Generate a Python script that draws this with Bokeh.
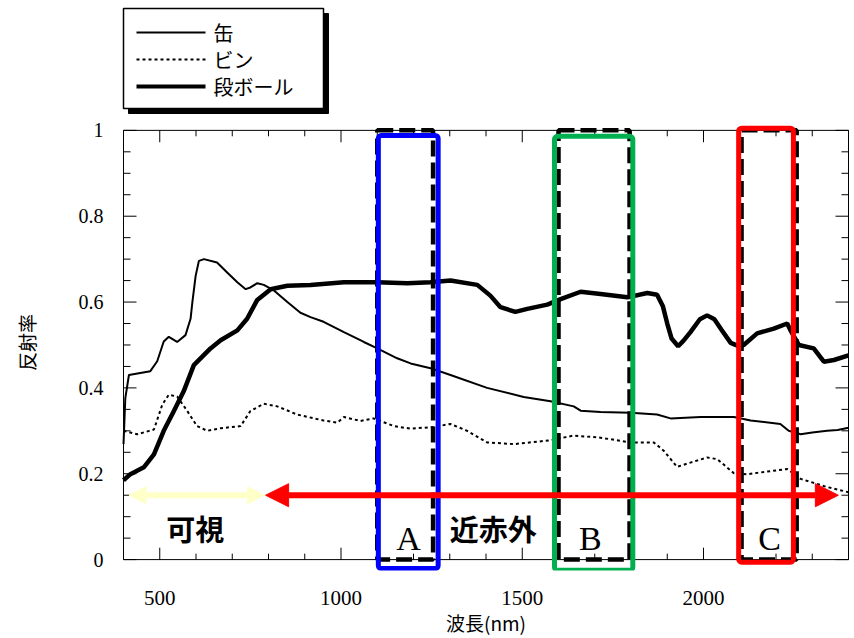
import numpy as np
from bokeh.plotting import figure
from bokeh.layouts import column
from bokeh.models import Range1d, FixedTicker, BoxAnnotation, Arrow, NormalHead
from bokeh.core.properties import value
from bokeh.embed import file_html
from bokeh.resources import INLINE

# ---------------- data ----------------
can_x = [400, 405, 415, 474, 493, 511, 525, 548, 571, 585, 590, 599, 608, 622, 658, 686,
         714, 737, 750, 769, 787, 815, 852, 888, 916, 952, 1008, 1063, 1100, 1155, 1192,
         1247, 1302, 1403, 1504, 1578, 1642, 1661, 1716, 1799, 1872, 1909, 1992, 2084,
         2130, 2212, 2235, 2268, 2300, 2341, 2370, 2400]
can_y = [0.269, 0.376, 0.430, 0.439, 0.462, 0.508, 0.519, 0.507, 0.523, 0.561, 0.600,
         0.661, 0.696, 0.700, 0.692, 0.669, 0.646, 0.630, 0.634, 0.644, 0.640, 0.627,
         0.600, 0.575, 0.565, 0.554, 0.530, 0.507, 0.492, 0.469, 0.457, 0.446, 0.430,
         0.400, 0.379, 0.369, 0.357, 0.347, 0.344, 0.342, 0.338, 0.329, 0.332, 0.332,
         0.324, 0.316, 0.300, 0.292, 0.296, 0.300, 0.302, 0.307]

bottle_x = [400, 438, 484, 507, 525, 548, 576, 603, 631, 668, 723, 750, 787, 824, 879,
            952, 990, 1008, 1054, 1090, 1146, 1192, 1256, 1302, 1348, 1403, 1477, 1578,
            1642, 1716, 1799, 1863, 1891, 1927, 1964, 2010, 2038, 2084, 2120, 2185, 2231,
            2268, 2341, 2400]
bottle_y = [0.300, 0.292, 0.303, 0.361, 0.384, 0.380, 0.346, 0.311, 0.300, 0.306, 0.311,
            0.346, 0.363, 0.357, 0.338, 0.324, 0.319, 0.332, 0.323, 0.329, 0.311, 0.305,
            0.309, 0.316, 0.300, 0.273, 0.269, 0.278, 0.289, 0.284, 0.273, 0.273, 0.253,
            0.216, 0.226, 0.238, 0.234, 0.201, 0.199, 0.206, 0.211, 0.188, 0.169, 0.157]

board_x = [400, 419, 456, 484, 511, 539, 566, 594, 640, 668, 714, 741, 769, 806, 852, 916,
           1008, 1100, 1183, 1247, 1302, 1376, 1412, 1440, 1481, 1514, 1569, 1606, 1661,
           1716, 1790, 1845, 1872, 1888, 1900, 1912, 1930, 1945, 1964, 1990, 2010, 2030,
           2050, 2075, 2095, 2111, 2148, 2194, 2231, 2240, 2263, 2304, 2332, 2360, 2400]
board_y = [0.185, 0.199, 0.215, 0.245, 0.300, 0.346, 0.392, 0.453, 0.492, 0.511, 0.534,
           0.561, 0.605, 0.630, 0.638, 0.640, 0.646, 0.646, 0.644, 0.646, 0.650, 0.640,
           0.615, 0.588, 0.577, 0.584, 0.594, 0.607, 0.624, 0.619, 0.611, 0.621, 0.617,
           0.590, 0.550, 0.515, 0.497, 0.510, 0.530, 0.560, 0.569, 0.560, 0.535, 0.505,
           0.498, 0.500, 0.527, 0.538, 0.550, 0.534, 0.500, 0.492, 0.461, 0.465, 0.476]

series_names = ["缶", "ビン", "段ボール"]

x_major = [500, 1000, 1500, 2000]
x_labels = ["500", "1000", "1500", "2000"]
y_major = [0, 0.2, 0.4, 0.6, 0.8, 1.0]
y_labels = ["0", "0.2", "0.4", "0.6", "0.8", "1"]

# bands A, B, C (nm)
band_names = ["A", "B", "C"]
band_left = [1100, 1600, 2105]
band_right = [1254, 1796, 2257]
frame_left = [1103, 1589, 2097]
frame_right = [1268, 1805, 2248]
frame_top = [0.988, 0.986, 1.005]
frame_bottom = [-0.021, -0.025, -0.006]
frame_colors = ["#0000FF", "#00B050", "#FF0000"]
band_label_x = [1186, 1688, 2182]
band_label_y = [0.048, 0.048, 0.048]

# region arrows
vis_range = [415, 789]
nir_range = [792, 2372]
arrow_y = 0.150
region_names = ["可視", "近赤外"]
region_label_x = [598, 1420]
region_label_y = [0.074, 0.074]

# ---------------- layout ----------------
W, H = 854, 638
LEG_H = 114                      # height of the legend strip above the chart
X0, X1, Y0, Y1 = 400, 2400, 0.0, 1.0
PX_X0, PX_X1 = 123, 848          # pixel columns of x = 400 and x = 2400
PX_Y0, PX_Y1 = 563, 130          # pixel rows of y = 0 and y = 1
FR_L, FR_R, FR_B = 121, 850, 574  # plotting-frame edges (pixels)
KX = (X1 - X0) / (PX_X1 - PX_X0)
KY = (Y1 - Y0) / (PX_Y0 - PX_Y1)


def xd(px):
    return X0 + (px - PX_X0) * KX


def yd(py):
    return Y0 + (PX_Y0 - py) * KY


serif = "Liberation Serif"
cjk = "Noto Sans CJK JP"

p = figure(width=W, height=H - LEG_H,
           x_range=Range1d(xd(FR_L), xd(FR_R)), y_range=Range1d(yd(FR_B), yd(LEG_H)),
           output_backend="svg", toolbar_location=None,
           min_border_left=FR_L, min_border_right=W - FR_R,
           min_border_top=0, min_border_bottom=H - FR_B)
p.outline_line_color = None
p.grid.visible = False
p.background_fill_color = "white"

xa = p.xaxis[0]
xa.ticker = FixedTicker(ticks=x_major, minor_ticks=[])
xa.major_label_overrides = dict(zip(x_major, x_labels))
xa.axis_line_color = None
xa.major_tick_line_color = None
xa.minor_tick_line_color = None
xa.major_tick_in = 0
xa.major_tick_out = 0
xa.minor_tick_in = 0
xa.minor_tick_out = 0
xa.major_label_text_font = serif
xa.major_label_text_font_size = "21px"
xa.major_label_text_color = "black"
xa.major_label_standoff = 20
xa.axis_label = "波長(nm)"
xa.axis_label_text_font = cjk
xa.axis_label_text_font_style = "normal"
xa.axis_label_text_font_size = "19px"
xa.axis_label_text_color = "black"
xa.axis_label_standoff = 1

ya = p.yaxis[0]
ya.ticker = FixedTicker(ticks=y_major, minor_ticks=[])
ya.major_label_overrides = dict(zip(y_major, y_labels))
ya.axis_line_color = None
ya.major_tick_line_color = None
ya.minor_tick_line_color = None
ya.major_tick_in = 0
ya.major_tick_out = 0
ya.minor_tick_in = 0
ya.minor_tick_out = 0
ya.major_label_text_font = serif
ya.major_label_text_font_size = "20px"
ya.major_label_text_color = "black"
ya.major_label_standoff = 18
ya.axis_label = "反射率"
ya.axis_label_text_font = cjk
ya.axis_label_text_font_style = "normal"
ya.axis_label_text_font_size = "19px"
ya.axis_label_text_color = "black"
ya.axis_label_standoff = 36

# ---------------- curves ----------------
p.line(can_x, can_y, line_color="black", line_width=2)
p.line(bottle_x, bottle_y, line_color="black", line_width=2, line_dash="3 3")
p.line(board_x, board_y, line_color="black", line_width=4.5)

# ---------------- frame box with inward ticks on all sides ----------------
p.line([X0, X1, X1, X0, X0], [Y0, Y0, Y1, Y1, Y0], line_color="black", line_width=1)

x_minor = list(np.arange(400, 2401, 100))
y_minor = list(np.round(np.arange(0, 1.001, 0.05), 2))
XT_MAJ, XT_MIN = 12 * KY, 6 * KY      # tick lengths along y (data units)
YT_MAJ, YT_MIN = 13 * KX, 7 * KX      # tick lengths along x (data units)
xt_x, xt_len = [], []
for v in x_minor:
    xt_x.append(v)
    xt_len.append(XT_MAJ if v in x_major else XT_MIN)
yt_y, yt_len = [], []
for v in y_minor:
    yt_y.append(v)
    yt_len.append(YT_MAJ if any(abs(v - m) < 1e-9 for m in y_major) else YT_MIN)
# bottom and top
p.segment(x0=xt_x, y0=[Y0] * len(xt_x), x1=xt_x, y1=[Y0 + l for l in xt_len],
          line_color="black", line_width=1)
p.segment(x0=xt_x, y0=[Y1] * len(xt_x), x1=xt_x, y1=[Y1 - l for l in xt_len],
          line_color="black", line_width=1)
# left and right
p.segment(x0=[X0] * len(yt_y), y0=yt_y, x1=[X0 + l for l in yt_len], y1=yt_y,
          line_color="black", line_width=1)
p.segment(x0=[X1] * len(yt_y), y0=yt_y, x1=[X1 - l for l in yt_len], y1=yt_y,
          line_color="black", line_width=1)

# ---------------- bands ----------------
for l, r in zip(band_left, band_right):
    p.add_layout(BoxAnnotation(left=l, right=r, top=Y1, bottom=Y0, fill_color=None,
                               line_color="black", line_alpha=1, line_width=4.5,
                               line_dash="16 6"))
for l, r, t, b, c in zip(frame_left, frame_right, frame_top, frame_bottom, frame_colors):
    p.add_layout(BoxAnnotation(left=l, right=r, top=t, bottom=b, fill_color=None,
                               line_color=c, line_alpha=1, line_width=5, border_radius=3))

p.text(x=band_label_x, y=band_label_y, text=band_names, text_align="center",
       text_baseline="middle", text_font=value(serif), text_font_size="34px",
       text_color="black")

# ---------------- region arrows ----------------
YEL = "#FFFFC8"
p.add_layout(Arrow(x_start=vis_range[0], x_end=vis_range[1], y_start=arrow_y, y_end=arrow_y,
                   line_color=YEL, line_width=6,
                   start=NormalHead(size=17, fill_color=YEL, line_color=YEL),
                   end=NormalHead(size=17, fill_color=YEL, line_color=YEL)))
p.add_layout(Arrow(x_start=nir_range[0], x_end=nir_range[1], y_start=arrow_y, y_end=arrow_y,
                   line_color="#FF0000", line_width=6,
                   start=NormalHead(size=23, fill_color="#FF0000", line_color="#FF0000"),
                   end=NormalHead(size=23, fill_color="#FF0000", line_color="#FF0000")))
p.text(x=region_label_x, y=region_label_y, text=region_names, text_align="center",
       text_baseline="middle", text_font=value(cjk), text_font_style="bold",
       text_font_size="29px", text_color="black")

# ---------------- legend strip (pixel coordinates, y downwards) ----------------
# its frame is aligned with the chart frame by the column layout
leg = figure(width=W, height=LEG_H, x_range=Range1d(FR_L, FR_R), y_range=Range1d(LEG_H, 0),
             x_axis_type=None, y_axis_type=None, output_backend="svg",
             toolbar_location=None, min_border=0)
leg.outline_line_color = None
leg.background_fill_color = "white"
leg.quad(left=[128], right=[328], top=[13], bottom=[113], fill_color="black",
         line_color="black")
leg.quad(left=[123], right=[323], top=[8], bottom=[108], fill_color="white",
         line_color="black", line_width=1.5)
leg_rows = [32, 59, 86]
leg_widths = [2, 2, 4]
leg_dash = ["solid", "3 3", "solid"]
for row, lw, dash in zip(leg_rows, leg_widths, leg_dash):
    leg.line([136, 205], [row, row], line_color="black", line_width=lw, line_dash=dash)
leg.text(x=[213] * 3, y=leg_rows, text=series_names, text_baseline="middle",
         text_align="left", text_font=value(cjk), text_font_size="20px",
         text_color="black")

layout = column(leg, p, spacing=0)
open("out.html", "w").write(file_html(layout, INLINE))
